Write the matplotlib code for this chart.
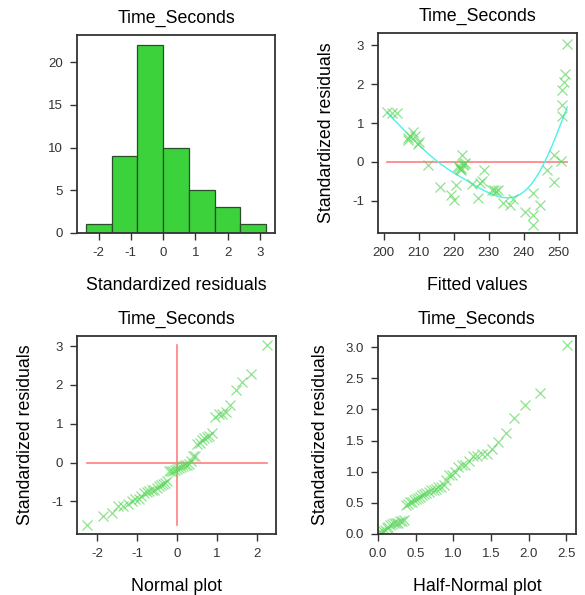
"""
Residual diagnostics for the Time_Seconds model: histogram, residuals vs
fitted values, normal and half-normal plots of standardized residuals.
"""

from statistics import NormalDist
import numpy as np
import matplotlib
matplotlib.use("Agg")
import matplotlib.pyplot as plt

plt.rcParams["font.family"] = ["Liberation Sans", "DejaVu Sans"]
plt.rcParams["axes.unicode_minus"] = False

RESPONSE = "Time_Seconds"

# fitted values and standardized residuals from the model -------------------
fitted = [
    201.0, 202.4, 203.8, 207.1, 207.6, 208.3, 207.1, 209.0, 209.8, 210.2,
    212.6, 216.0, 219.3, 220.2, 220.8, 221.1, 221.7, 222.1, 222.4, 222.6,
    223.3, 221.4, 222.0, 222.9, 225.2, 226.9, 227.6, 228.1, 228.6, 231.0,
    231.6, 232.1, 232.6, 234.0, 236.0, 236.9, 240.3, 242.6, 242.6, 242.6,
    244.6, 246.7, 248.6, 248.6, 250.5, 250.9, 250.9, 250.9, 251.4, 251.9,
    252.4,
]
std_resid = [
    1.29, 1.26, 1.25, 0.62, 0.66, 0.76, 0.57, 0.68, 0.47, 0.51,
    -0.07, -0.65, -0.86, -0.99, -0.60, -0.11, -0.18, -0.21, 0.17, -0.09,
    -0.03, -0.14, -0.16, -0.05, -0.58, -0.94, -0.54, -0.48, -0.21, -0.71,
    -0.73, -0.75, -0.71, -1.07, -1.11, -0.95, -1.29, -1.37, -1.62, -0.79,
    -1.11, -0.22, -0.52, 0.17, 0.03, 1.17, 1.47, 1.86, 2.07, 2.27,
    3.03,
]
hist_edges = [-2.4, -1.6, -0.8, 0.0, 0.8, 1.6, 2.4, 3.2]

fitted = np.array(fitted)
std_resid = np.array(std_resid)
n = len(std_resid)

# plotting positions for the normal / half-normal plots
nd = NormalDist()
ranks = np.arange(1, n + 1)
normal_q = np.array([nd.inv_cdf((i - 0.375) / (n + 0.25)) for i in ranks])
half_q = np.array([nd.inv_cdf((i + n - 0.125) / (2 * n + 0.5)) for i in ranks])
resid_sorted = np.sort(std_resid)
abs_sorted = np.sort(np.abs(std_resid))


def smooth_trend(x, y, lam=1.5e4, m=120):
    """Penalised (second-difference) smoother evaluated on a regular grid."""
    grid = np.linspace(x.min(), x.max(), m)
    h = grid[1] - grid[0]
    B = np.zeros((len(x), m))
    pos = (x - grid[0]) / h
    j = np.clip(np.floor(pos).astype(int), 0, m - 2)
    w = pos - j
    B[np.arange(len(x)), j] = 1 - w
    B[np.arange(len(x)), j + 1] = w
    D = np.diff(np.eye(m), 2, axis=0)
    f = np.linalg.solve(B.T @ B + lam * D.T @ D, B.T @ y)
    return grid, f


# style
BAR_FC = "#3cd23c"
BAR_EC = "#2b4d2b"
PT_COL = "#5fd85f"
REF_COL = "#ff7f7f"
FIT_COL = "#4df0f0"
AX_COL = "#333333"
LAB_FS = 12.8
W, H = 585, 595


def make_axes(fig, left, top, right, bottom):
    """Axes from pixel box (left, top, right, bottom)."""
    ax = fig.add_axes([left / W, 1 - bottom / H, (right - left) / W, (bottom - top) / H])
    for s in ax.spines.values():
        s.set_color(AX_COL)
        s.set_linewidth(1.3)
    ax.tick_params(direction="out", length=5, width=1.0, color=AX_COL,
                   labelsize=9.5, labelcolor=AX_COL, pad=5)
    ax.set_title(RESPONSE, fontsize=LAB_FS, pad=9)
    return ax


def scatter_x(ax, x, y):
    ax.plot(x, y, "x", ms=6.5, mew=0.9, color=PT_COL, alpha=0.7)


fig = plt.figure(figsize=(W / 100, H / 100), dpi=100)

# histogram -------------------------------------------------------------------
ax1 = make_axes(fig, 77, 35, 275, 233)
ax1.hist(std_resid, bins=hist_edges, color=BAR_FC, edgecolor=BAR_EC, linewidth=0.9)
ax1.set_xlim(-2.67, 3.47)
ax1.set_ylim(0, 23.2)
ax1.set_xticks([-2, -1, 0, 1, 2, 3])
ax1.set_yticks([0, 5, 10, 15, 20])
ax1.set_xlabel("Standardized residuals", fontsize=LAB_FS, labelpad=13)

# residuals vs fitted ---------------------------------------------------------
ax2 = make_axes(fig, 378, 33, 577, 233)
ax2.plot([fitted.min(), fitted.max()], [0, 0], color=REF_COL, lw=1.2)
gx, gy = smooth_trend(fitted, std_resid)
ax2.plot(gx, gy, color=FIT_COL, lw=1.0)
scatter_x(ax2, fitted, std_resid)
ax2.set_xlim(198.4, 255.2)
ax2.set_ylim(-1.83, 3.32)
ax2.set_xticks([200, 210, 220, 230, 240, 250])
ax2.set_yticks([-1, 0, 1, 2, 3])
ax2.set_xlabel("Fitted values", fontsize=LAB_FS, labelpad=13)
ax2.set_ylabel("Standardized residuals", fontsize=LAB_FS, labelpad=12)

# normal plot -----------------------------------------------------------------
ax3 = make_axes(fig, 77, 336, 276, 534)
ax3.plot([normal_q.min(), normal_q.max()], [0, 0], color=REF_COL, lw=1.2)
ax3.plot([0, 0], [resid_sorted.min(), resid_sorted.max()], color=REF_COL, lw=1.2)
scatter_x(ax3, normal_q, resid_sorted)
ax3.set_xlim(-2.5, 2.48)
ax3.set_ylim(-1.84, 3.26)
ax3.set_xticks([-2, -1, 0, 1, 2])
ax3.set_yticks([-1, 0, 1, 2, 3])
ax3.set_xlabel("Normal plot", fontsize=LAB_FS, labelpad=13)
ax3.set_ylabel("Standardized residuals", fontsize=LAB_FS, labelpad=12)

# half-normal plot ------------------------------------------------------------
ax4 = make_axes(fig, 378, 336, 576, 534)
scatter_x(ax4, half_q, abs_sorted)
ax4.set_xlim(0, 2.63)
ax4.set_ylim(0, 3.18)
ax4.set_xticks([0.0, 0.5, 1.0, 1.5, 2.0, 2.5])
ax4.set_yticks([0.0, 0.5, 1.0, 1.5, 2.0, 2.5, 3.0])
ax4.xaxis.set_major_formatter(matplotlib.ticker.FormatStrFormatter("%.1f"))
ax4.yaxis.set_major_formatter(matplotlib.ticker.FormatStrFormatter("%.1f"))
ax4.set_xlabel("Half-Normal plot", fontsize=LAB_FS, labelpad=13)
ax4.set_ylabel("Standardized residuals", fontsize=LAB_FS, labelpad=12)

fig.savefig("out.png", dpi=100, facecolor="white")
